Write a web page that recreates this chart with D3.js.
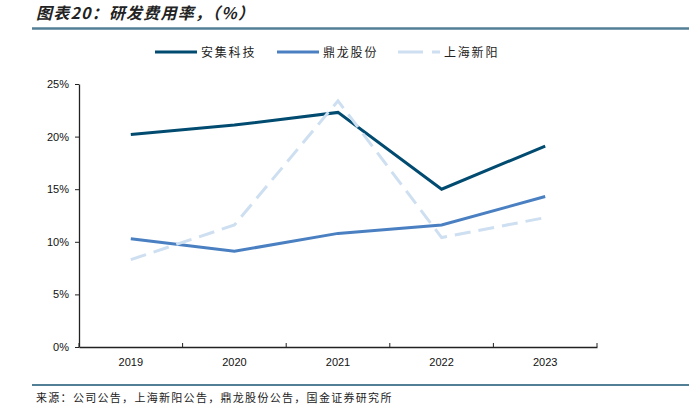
<!DOCTYPE html>
<html><head><meta charset="utf-8">
<script src="https://cdn.jsdelivr.net/npm/d3@7"></script>
<style>
body{margin:0;background:#fff;}
svg{display:block;font-family:"Noto Sans CJK SC","Noto Sans",sans-serif;}
</style></head>
<body><svg id="c" width="689" height="411"></svg>
<script>
const years = ["2019","2020","2021","2022","2023"];
const anji = [20.2, 21.1, 22.3, 15.0, 19.1];
const dinglong = [10.3, 9.1, 10.8, 11.6, 14.3];
const xinyang = [8.3, 11.6, 23.4, 10.4, 12.3];
const seriesNames = ["安集科技","鼎龙股份","上海新阳"];
const yTicks = [0,5,10,15,20,25];

const series = [
  {name: seriesNames[0], values: anji, color: "#024b70", dash: null},
  {name: seriesNames[1], values: dinglong, color: "#4a80c2", dash: null},
  {name: seriesNames[2], values: xinyang, color: "#cddff0", dash: "16,8"}
];

const svg = d3.select("#c");
// title
svg.append("text").attr("x",36).attr("y",19).attr("font-size",16).attr("font-weight","bold")
  .attr("font-style","italic").attr("letter-spacing",1.2).attr("fill","#222").text("图表20：研发费用率，（%）");
svg.append("line").attr("x1",32).attr("x2",689).attr("y1",28.5).attr("y2",28.5)
  .attr("stroke","#527f95").attr("stroke-width",2.5);
// footer
svg.append("line").attr("x1",32).attr("x2",689).attr("y1",385).attr("y2",385)
  .attr("stroke","#527f95").attr("stroke-width",2);
svg.append("text").attr("x",36).attr("y",402).attr("font-size",11).attr("letter-spacing",1.3).attr("fill","#222")
  .text("来源：公司公告，上海新阳公告，鼎龙股份公告，国金证券研究所");

const x = d3.scaleBand().domain(years).range([79,597]);
const y = d3.scaleLinear().domain([0,25]).range([347,84]);

const xAxis = svg.append("g").attr("transform","translate(0,347)")
  .call(d3.axisBottom(x).tickSize(0).tickPadding(11));
xAxis.select(".domain").attr("stroke","#222").attr("stroke-width",1.3);
xAxis.selectAll("text").attr("font-family","Liberation Sans, Arial, sans-serif").attr("font-size",11).attr("fill","#111");
// boundary ticks on x axis (pointing up)
const bounds = years.map(d=>x(d)).concat([x.range()[1]]);
svg.append("g").selectAll("line").data(bounds).join("line")
  .attr("x1",d=>d).attr("x2",d=>d).attr("y1",347).attr("y2",343)
  .attr("stroke","#222").attr("stroke-width",1);

const yAxis = svg.append("g").attr("transform","translate(79,0)")
  .call(d3.axisLeft(y).tickValues(yTicks).tickFormat(d=>d+"%").tickSize(4).tickSizeOuter(0).tickPadding(6));
yAxis.select(".domain").attr("stroke","#222").attr("stroke-width",1.3);
yAxis.selectAll(".tick line").attr("stroke","#222");
yAxis.selectAll("text").attr("font-family","Liberation Sans, Arial, sans-serif").attr("font-size",11).attr("fill","#111");

const line = d3.line().x((d,i)=>x(years[i])+x.bandwidth()/2).y(d=>y(d));
svg.append("g").selectAll("path").data(series).join("path")
  .attr("d",d=>line(d.values)).attr("fill","none").attr("stroke",d=>d.color)
  .attr("stroke-width",3).attr("stroke-dasharray",d=>d.dash);

// legend
const lx = [155, 277, 398];
const lg = svg.append("g").selectAll("g").data(series).join("g")
  .attr("transform",(d,i)=>`translate(${lx[i]},52)`);
lg.append("line").attr("x1",0).attr("x2",42).attr("y1",0).attr("y2",0)
  .attr("stroke",d=>d.color).attr("stroke-width",3)
  .attr("stroke-dasharray",d=>d.dash ? "25,9,8,0" : null);
lg.append("text").attr("x",46).attr("y",4.5).attr("font-size",12).attr("letter-spacing",1.8).attr("fill","#222").text(d=>d.name);
</script></body></html>
